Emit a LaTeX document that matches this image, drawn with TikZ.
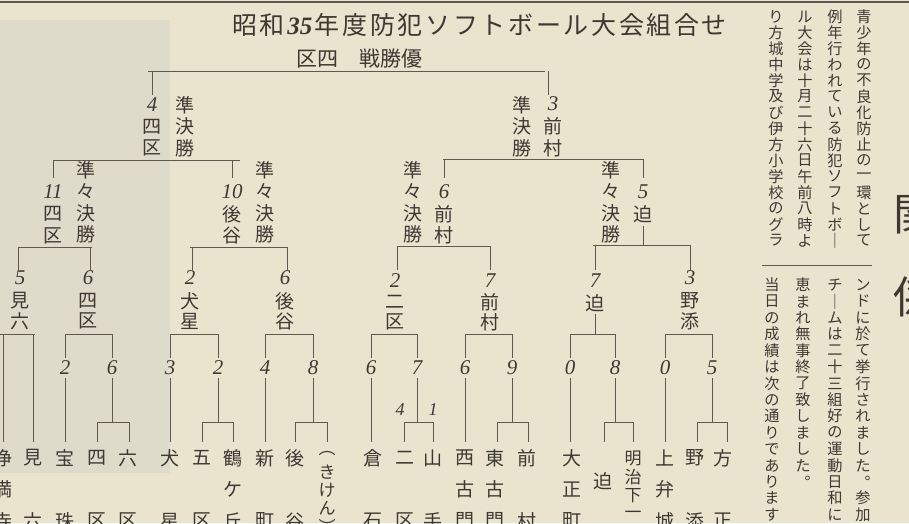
\documentclass[tikz,border=0pt]{standalone}
\usepackage{fontspec}
\usepackage{graphicx}
\newfontfamily\cjk{Noto Sans CJK JP}
\newfontfamily\numf{Liberation Serif}
\definecolor{paper}{HTML}{EAE4CF}
\definecolor{shadearea}{HTML}{DFDBCB}
\definecolor{ink}{HTML}{3E3833}
\definecolor{rulec}{HTML}{5E5850}
\newcommand\vcol[6]{\foreach \c [count=\i from 0] in {#6}{\node[#1] (#2-\i) at ({#3},{#4+\i*#5}) {\c};}}
\def\tg{\hskip 0pt plus 1fil\relax}
\begin{document}
\begin{tikzpicture}[x=1pt,y=-1pt,
  ch/.style={font=\cjk\fontsize{19}{19}\selectfont, inner sep=0pt, text=ink},
  chs/.style={font=\cjk\fontsize{17}{17}\selectfont, inner sep=0pt, text=ink},
  para/.style={font=\cjk\fontsize{15.2}{15.2}\selectfont, inner sep=0pt, text=ink},
  big/.style={font=\cjk\fontsize{44}{44}\selectfont, inner sep=0pt, text=ink},
  num/.style={font=\numf\itshape\fontsize{21}{21}\selectfont, inner sep=0pt, outer sep=3pt, text=ink},
  nums/.style={font=\numf\itshape\fontsize{18}{18}\selectfont, inner sep=0pt, text=ink},
  br/.style={draw=rulec, line width=0.8pt}]
\useasboundingbox (0,0) rectangle (909,523);
\fill[paper] (0,0) rectangle (909,523);
\fill[shadearea] (0,20) rectangle (170,473);
\draw[rulec, line width=2pt] (0,1.5) -- (909,1.5);

% title
\node[font=\cjk\fontsize{25}{25}\selectfont, text=ink, inner sep=0pt] (title) at (479.5,25)
  {\makebox[495pt][s]{昭\tg 和\tg {\numf\bfseries\itshape 35}\tg 年\tg 度\tg 防\tg 犯\tg ソ\tg フ\tg ト\tg ボ\tg ー\tg ル\tg 大\tg 会\tg 組\tg 合\tg せ}};
\node[font=\cjk\fontsize{21}{21}\selectfont, text=ink, inner sep=0pt] (subt) at (359.5,59) {区四　戦勝優};

% final
\node[num] (sfLn) at (152,105) {4};
\vcol{ch}{sfLa}{152}{126.5}{21.5}{四,区}
\vcol{ch}{sfLb}{185}{105}{21.5}{準,決,勝}
\vcol{ch}{sfRb}{522}{105}{21.5}{準,決,勝}
\node[num] (sfRn) at (553,104) {3};
\vcol{ch}{sfRa}{553}{126.5}{21.5}{前,村}
\draw[br] (148,71) -- (545,71) (152,71) -- (152,95) (548,71) -- (548,95);

% semifinal brackets
\draw[br] (53,160) -- (240,160) (53,160) -- (53,178) (232,160) -- (232,178);
\draw[br] (443,159) -- (643,159) (444,159) -- (444,178) (643,159) -- (643,178);

% quarterfinal nodes
\node[num] (q1n) at (53,192) {11};
\vcol{ch}{q1a}{53}{214}{21.5}{四,区}
\vcol{ch}{q1b}{86}{170}{21.5}{準,々,決,勝}
\node[num] (q2n) at (232,192) {10};
\vcol{ch}{q2a}{232}{214}{21.5}{後,谷}
\vcol{ch}{q2b}{265}{170}{21.5}{準,々,決,勝}
\vcol{ch}{q3b}{413}{170}{21.5}{準,々,決,勝}
\node[num] (q3n) at (444,192) {6};
\vcol{ch}{q3a}{444}{214}{21.5}{前,村}
\vcol{ch}{q4b}{611}{170}{21.5}{準,々,決,勝}
\node[num] (q4n) at (643,192) {5};
\vcol{ch}{q4a}{643}{214}{21.5}{迫}
\draw[br] (q4a-0.south) ++(0,3) -- (643,245);

% quarterfinal brackets
\draw[br] (18,247) -- (92,247) (18,247) -- (18,270) (90,247) -- (90,270);
\draw[br] (190,247) -- (288,247) (192,247) -- (192,270) (287,247) -- (287,270);
\draw[br] (397,246) -- (490,246) (397,246) -- (397,270) (490,246) -- (490,270);
\draw[br] (593,245) -- (690,245) (595,245) -- (595,270) (690,245) -- (690,270);

% second round nodes
\node[num] (r2a) at (20,278) {5};  \vcol{ch}{r2at}{20}{301}{20}{見,六}
\node[num] (r2b) at (88,278) {6};  \vcol{ch}{r2bt}{88}{301}{20}{四,区}
\node[num] (r2c) at (190,278) {2}; \vcol{ch}{r2ct}{190}{301}{20}{犬,星}
\node[num] (r2d) at (285,278) {6}; \vcol{ch}{r2dt}{285}{301}{20}{後,谷}
\node[num] (r2e) at (395,281) {2}; \vcol{ch}{r2et}{395}{302}{20}{二,区}
\node[num] (r2f) at (490,281) {7}; \vcol{ch}{r2ft}{490}{302}{20}{前,村}
\node[num] (r2g) at (595,281) {7}; \vcol{ch}{r2gt}{595}{303}{20}{迫}
\draw[br] (595,314) -- (595,334);
\node[num] (r2h) at (690,278) {3}; \vcol{ch}{r2ht}{690}{301}{20}{野,添}

% first round brackets
\draw[br] (0,334) -- (35,334) (3,334) -- (3,442) (33,334) -- (33,442);
\foreach \xl/\xr/\sl/\sr/\nm in {65/112/2/6/B, 170/218/3/2/C, 265/313/4/8/D, 371/417/6/7/E, 465/512/6/9/F, 570/615/0/8/G, 665/712/0/5/H}{
  \draw[br] (\xl,334) -- (\xr,334);
  \node[num] (s\nm l) at (\xl,368) {\sl};
  \node[num] (s\nm r) at (\xr,368) {\sr};
  \draw[br] (\xl,334) -- (s\nm l.north) (s\nm l.south) -- (\xl,442);
  \draw[br] (\xr,334) -- (s\nm r.north) (s\nm r.south) -- (\xr,422);
}
\foreach \a/\b in {97/129, 202/233, 295/327, 404/433, 497/528, 604/633, 697/727}{
  \draw[br] (\a,422) -- (\b,422) (\a,422) -- (\a,442) (\b,422) -- (\b,442);
}
\node[nums] (sE4) at (400,410) {4};
\node[nums] (sE1) at (433,410) {1};

% first round teams
\vcol{ch}{t1}{3}{458}{31.5}{浄,満,寺}
\vcol{ch}{t2}{33}{458}{31.5}{見,{},六}
\vcol{ch}{t3}{65}{458}{31.5}{宝,{},珠}
\vcol{ch}{t4}{97}{458}{31.5}{四,{},区}
\vcol{ch}{t5}{128}{458}{31.5}{六,{},区}
\vcol{ch}{t6}{170}{458}{31.5}{犬,{},星}
\vcol{ch}{t7}{202}{458}{31.5}{五,{},区}
\vcol{ch}{t8}{233}{458}{31.5}{鶴,ケ,丘}
\vcol{ch}{t9}{265}{458}{31.5}{新,{},町}
\vcol{ch}{t10}{295}{458}{31.5}{後,{},谷}
\vcol{chs}{t11}{327}{454}{18}{︵,き,け,ん,︶}
\vcol{ch}{t12}{373}{458}{31.5}{倉,{},石}
\vcol{ch}{t13}{405}{458}{31.5}{二,{},区}
\vcol{ch}{t14}{433}{458}{31.5}{山,{},手}
\vcol{ch}{t15}{465}{458}{31.5}{西,古,門}
\vcol{ch}{t16}{495}{458}{31.5}{東,古,門}
\vcol{ch}{t17}{527}{458}{31.5}{前,{},村}
\vcol{ch}{t18}{572}{458}{31.5}{大,正,町}
\vcol{ch}{t19}{603}{481}{20}{迫}
\vcol{chs}{t20}{633}{458}{19}{明,治,下,一}
\vcol{ch}{t21}{665}{458}{31.5}{上,弁,城}
\vcol{ch}{t22}{695}{458}{31.5}{野,{},添}
\vcol{ch}{t23}{723}{458}{31.5}{方,{},正}

% article text
\vcol{para}{p1}{864}{16.5}{16}{青,少,年,の,不,良,化,防,止,の,一,環,と,し,て}
\vcol{para}{p2}{835}{16.5}{16}{例,年,行,わ,れ,て,い,る,防,犯,ソ,フ,ト,ボ,｜}
\vcol{para}{p3}{805}{16.5}{16}{ル,大,会,は,十,月,二,十,六,日,午,前,八,時,よ}
\vcol{para}{p4}{776}{16.5}{16}{り,方,城,中,学,及,び,伊,方,小,学,校,の,グ,ラ}
\draw[rulec, line width=0.8pt] (762,265) -- (872,265);
\vcol{para}{p5}{863}{285}{16.4}{ン,ド,に,於,て,挙,行,さ,れ,ま,し,た,︒,参,加}
\vcol{para}{p6}{835}{285}{16.4}{チ,｜,ム,は,二,十,三,組,好,の,運,動,日,和,に}
\vcol{para}{p7}{803}{285}{16.4}{恵,ま,れ,無,事,終,了,致,し,ま,し,た,︒}
\vcol{para}{p8}{772}{285}{16.4}{当,日,の,成,績,は,次,の,通,り,で,あ,り,ま,す}
\node[big] (h1) at (915,215) {関};
\node[big] (h2) at (915,297) {係};
\end{tikzpicture}
\end{document}
